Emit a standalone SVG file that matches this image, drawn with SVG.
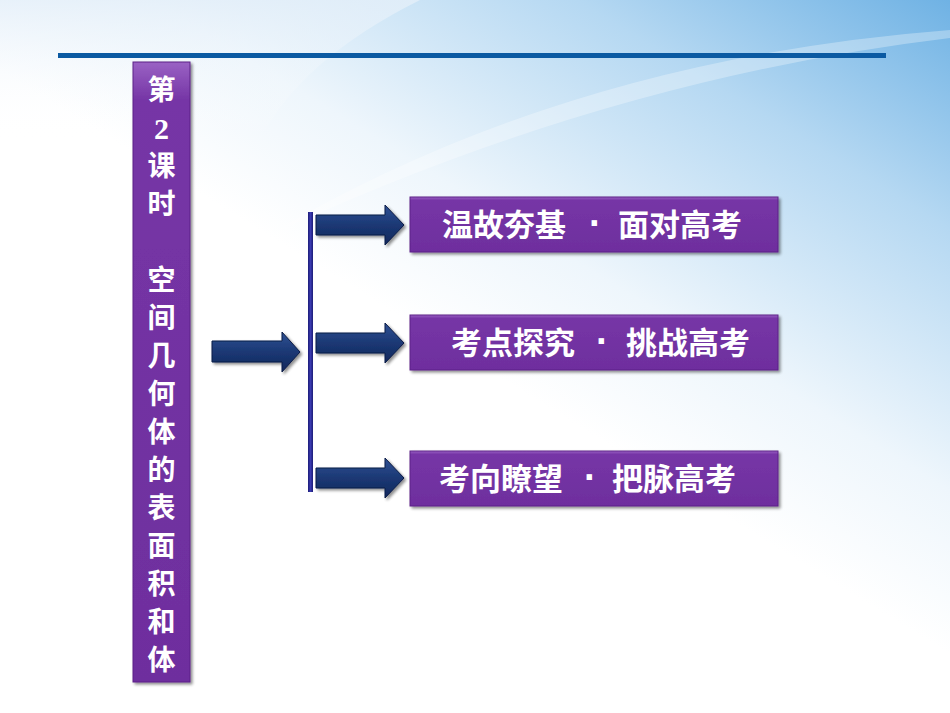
<svg xmlns="http://www.w3.org/2000/svg" width="950" height="713" viewBox="0 0 950 713">
<defs>
<linearGradient id="bg" x1="1" y1="0" x2="0.55" y2="0.55">
<stop offset="0" stop-color="#6fb2e4"/>
<stop offset="0.35" stop-color="#b5d8f2"/>
<stop offset="0.75" stop-color="#eef6fc"/>
<stop offset="1" stop-color="#ffffff"/>
</linearGradient>
<linearGradient id="bgL" x1="0" y1="0" x2="0" y2="1">
<stop offset="0" stop-color="#e4eff9" stop-opacity="0.8"/>
<stop offset="1" stop-color="#ffffff" stop-opacity="0"/>
</linearGradient>
<linearGradient id="purpleV" x1="0" y1="0" x2="0" y2="1">
<stop offset="0" stop-color="#9a62c4"/>
<stop offset="0.06" stop-color="#7636a6"/>
<stop offset="1" stop-color="#6e2e9e"/>
</linearGradient>
<linearGradient id="navy" x1="0" y1="0" x2="0" y2="1">
<stop offset="0" stop-color="#2f5194"/>
<stop offset="0.5" stop-color="#1b3874"/>
<stop offset="1" stop-color="#11285c"/>
</linearGradient>
<linearGradient id="vline" x1="0" y1="0" x2="1" y2="0">
<stop offset="0" stop-color="#1c1c78"/>
<stop offset="0.5" stop-color="#3a3ab0"/>
<stop offset="1" stop-color="#1c1c78"/>
</linearGradient>
<filter id="sh" x="-10%" y="-10%" width="130%" height="130%">
<feGaussianBlur in="SourceAlpha" stdDeviation="1.5"/>
<feOffset dx="2" dy="2"/>
<feComponentTransfer><feFuncA type="linear" slope="0.45"/></feComponentTransfer>
<feMerge><feMergeNode/><feMergeNode in="SourceGraphic"/></feMerge>
</filter>
</defs>
<style>
.cj{font-family:"Liberation Sans","Noto Sans CJK SC",sans-serif;font-weight:bold;fill:#ffffff;}
.t{font-size:28px;text-anchor:middle;}
.b{font-size:31px;}
.num{font-family:"Liberation Serif","Noto Sans CJK SC",serif;font-weight:bold;font-size:30px;}
.dot{font-size:38px;}
.box{fill:url(#purpleV);stroke:#5c2288;stroke-width:1;}
.arr{fill:url(#navy);stroke:#0b1c46;stroke-width:1;}
</style>
<rect x="0" y="0" width="950" height="713" fill="url(#bg)"/>
<path d="M0,0 L420,0 Q300,60 260,140 L0,140 Z" fill="url(#bgL)"/>
<path d="M260,240 Q560,60 950,30 L950,38 Q600,80 260,240 Z" fill="#ffffff" opacity="0.3"/>
<rect x="58" y="53" width="828" height="5" fill="#0b5aa2"/>

<g id="title">
<rect class="box" x="133" y="62" width="57" height="620" filter="url(#sh)"/>
<text class="cj t" x="161.5" y="100">第</text>
<text class="cj t num" x="161.5" y="139">2</text>
<text class="cj t" x="161.5" y="176">课</text>
<text class="cj t" x="161.5" y="214">时</text>
<text class="cj t" x="161.5" y="290">空</text>
<text class="cj t" x="161.5" y="328">间</text>
<text class="cj t" x="161.5" y="366">几</text>
<text class="cj t" x="161.5" y="404">何</text>
<text class="cj t" x="161.5" y="442">体</text>
<text class="cj t" x="161.5" y="480">的</text>
<text class="cj t" x="161.5" y="518">表</text>
<text class="cj t" x="161.5" y="556">面</text>
<text class="cj t" x="161.5" y="594">积</text>
<text class="cj t" x="161.5" y="632">和</text>
<text class="cj t" x="161.5" y="670">体</text>
</g>

<g id="connectors">
<polygon class="arr" points="212,341 282,341 282,332 300,352 282,372 282,362 212,362" filter="url(#sh)"/>
<rect x="308" y="212" width="5" height="280" fill="url(#vline)"/>
<polygon class="arr" points="316,215 385,215 385,205 404,225 385,245 385,235 316,235" filter="url(#sh)"/>
<polygon class="arr" points="316,333 385,333 385,323 404,343 385,363 385,353 316,353" filter="url(#sh)"/>
<polygon class="arr" points="316,468 385,468 385,458 404,478 385,498 385,488 316,488" filter="url(#sh)"/>
</g>

<g id="box1">
<rect class="box" x="410" y="197" width="368" height="55" filter="url(#sh)"/>
<text class="cj b" y="236"><tspan x="442">温故夯基</tspan><tspan class="dot" x="589">·</tspan><tspan x="618">面对高考</tspan></text>
</g>
<g id="box2">
<rect class="box" x="410" y="315" width="368" height="55" filter="url(#sh)"/>
<text class="cj b" y="354"><tspan x="451">考点探究</tspan><tspan class="dot" x="596">·</tspan><tspan x="626">挑战高考</tspan></text>
</g>
<g id="box3">
<rect class="box" x="410" y="451" width="368" height="55" filter="url(#sh)"/>
<text class="cj b" y="490"><tspan x="439">考向瞭望</tspan><tspan class="dot" x="584">·</tspan><tspan x="612">把脉高考</tspan></text>
</g>
</svg>
